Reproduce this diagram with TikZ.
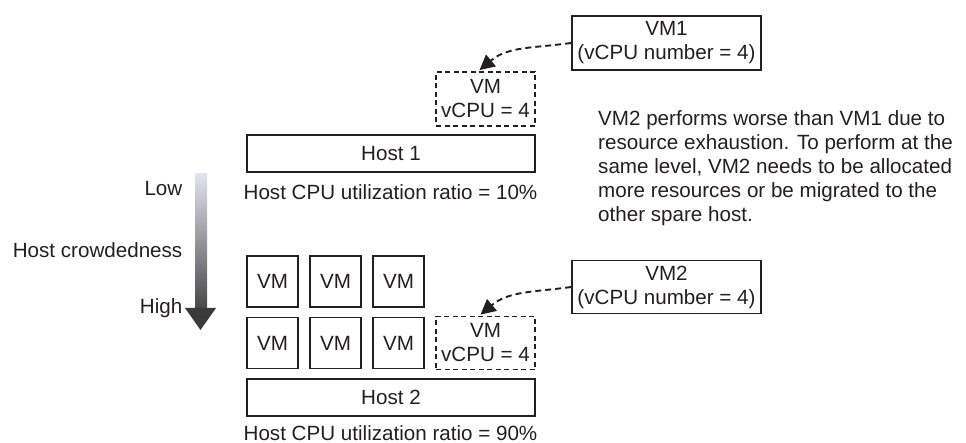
\documentclass[tikz,border=0pt]{standalone}
\usepackage{fontspec}
\setmainfont{Liberation Sans}
\usetikzlibrary{arrows.meta}
\definecolor{ink}{HTML}{231F20}
\definecolor{gradtop}{HTML}{E3E2F0}
\definecolor{gradmid}{HTML}{9C9BA6}
\definecolor{gradbot}{HTML}{474747}
\definecolor{headcol}{HTML}{3A3A3A}
\begin{document}
\begin{tikzpicture}[x=1pt,y=-1pt,
  every node/.style={font=\fontsize{20.6}{24}\selectfont, text=ink, inner sep=0pt},
  box/.style={draw=ink, line width=1.9pt, align=center},
  dbox/.style={draw=ink, line width=1.8pt, dash pattern=on 5pt off 3.5pt, align=center},
  migr/.style={draw=ink, line width=1.9pt, dash pattern=on 6pt off 4pt, -{Triangle[length=15pt,width=15pt]}},
  lbl/.style={anchor=center}
]
\useasboundingbox (0,0) rectangle (966,443);

% Host 1 side
\node[box, minimum width=288pt, minimum height=37pt] (host1) at (391,153.5) {Host 1};
\node[lbl] (ratio1) at (390.5,192) {Host CPU utilization ratio = 10\%};
\node[dbox, minimum width=99pt, minimum height=54pt] (dvm1) at (485.5,99) {VM\\vCPU = 4};
\node[box, minimum width=189pt, minimum height=54pt] (vm1) at (666.5,43) {VM1\\(vCPU number = 4)};
\draw[migr] (vm1.west) to[out=188,in=40] ([xshift=-6pt,yshift=1pt]dvm1.north);

% explanation text
\node[anchor=north west, align=left] (note) at (598,110)
  {VM2 performs worse than VM1 due to\\
   resource exhaustion. To perform at the\\
   same level, VM2 needs to be allocated\\
   more resources or be migrated to the\\
   other spare host.};

% crowdedness scale
\shade[top color=gradtop, middle color=gradmid, bottom color=gradbot]
  (195,174) rectangle (207,309);
\fill[headcol] (185,308) -- (216,308) -- (200.5,330) -- cycle;
\node[anchor=east] (low) at (182.5,189) {Low};
\node[anchor=east] (crowd) at (182.5,250) {Host crowdedness};
\node[anchor=east] (high) at (182.5,308) {High};

% Host 2 side
\foreach \c/\x in {1/272.5,2/335.5,3/398.5}{
  \node[box, minimum width=51pt, minimum height=51pt] (vma\c) at (\x,281.5) {VM};
  \node[box, minimum width=51pt, minimum height=51pt] (vmb\c) at (\x,343) {VM};
}
\node[dbox, minimum width=99pt, minimum height=53pt] (dvm2) at (485.5,343) {VM\\vCPU = 4};
\node[box, minimum width=288pt, minimum height=37pt] (host2) at (391,397.5) {Host 2};
\node[lbl] (ratio2) at (390.5,433) {Host CPU utilization ratio = 90\%};
\node[box, minimum width=189pt, minimum height=53pt] (vm2) at (666.5,287) {VM2\\(vCPU number = 4)};
\draw[migr] (vm2.west) to[out=188,in=40] ([xshift=-5pt,yshift=1pt]dvm2.north);
\end{tikzpicture}
\end{document}
